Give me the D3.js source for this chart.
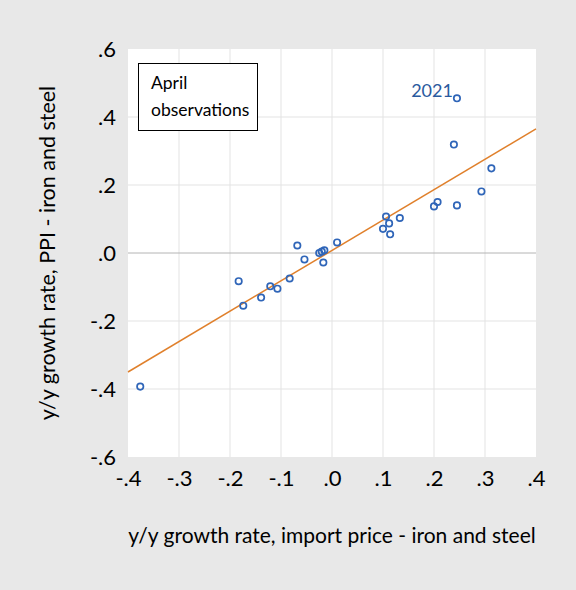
<!DOCTYPE html>
<html>
<head>
<meta charset="utf-8">
<script src="https://cdn.jsdelivr.net/npm/d3@7"></script>
<style>
  body { margin: 0; background: #e8e8e8; }
  svg { display: block; font-family: Lato, 'Open Sans', sans-serif; }
</style>
</head>
<body>
<div id="chart"></div>
<script>
// April observations: import price growth (x) vs PPI growth (y)
var importGrowth = [0.245, 0.239, 0.3125, 0.293, 0.207, 0.200, 0.245, 0.133, 0.106, 0.112,
  0.100, 0.114, 0.010, -0.068, -0.054, -0.015, -0.020, -0.025, -0.017, -0.083,
  -0.121, -0.107, -0.139, -0.183, -0.174, -0.376]
var ppiGrowth = [0.455, 0.319, 0.249, 0.181, 0.150, 0.137, 0.140, 0.103, 0.107, 0.087,
  0.071, 0.055, 0.031, 0.022, -0.019, 0.008, 0.004, 0.000, -0.028, -0.075,
  -0.098, -0.105, -0.131, -0.083, -0.155, -0.393]
var years = ['2021']

// fitted line, read at the two edges of the plot
var fitX = [-0.4, 0.4]
var fitY = [-0.350, 0.365]

var xTicks = [-0.4, -0.3, -0.2, -0.1, 0, 0.1, 0.2, 0.3, 0.4]
var yTicks = [-0.6, -0.4, -0.2, 0, 0.2, 0.4, 0.6]

var width = 576
var height = 590
var margin = { top: 49, right: 40, bottom: 133, left: 128 }

var svg = d3.select('#chart')
  .append('svg')
  .attr('width', width)
  .attr('height', height)

svg.append('rect')
  .attr('width', width)
  .attr('height', height)
  .attr('fill', '#e8e8e8')

var x = d3.scaleLinear().domain([-0.4, 0.4]).range([margin.left, width - margin.right])
var y = d3.scaleLinear().domain([-0.6, 0.6]).range([height - margin.bottom, margin.top])

// tick label like ".2" / "-.4"
function fmt (v) {
  var s = d3.format('.1f')(Math.abs(v)).replace(/^0/, '')
  return (v < -1e-9 ? '-' : '') + s
}

// plot area
svg.append('rect')
  .attr('x', x(-0.4))
  .attr('y', y(0.6))
  .attr('width', x(0.4) - x(-0.4))
  .attr('height', y(-0.6) - y(0.6))
  .attr('fill', '#ffffff')

// grid
svg.append('g')
  .selectAll('line')
  .data(xTicks.slice(1, -1))
  .join('line')
  .attr('x1', d => x(d)).attr('x2', d => x(d))
  .attr('y1', y(0.6)).attr('y2', y(-0.6))
  .attr('stroke', '#e3e3e3')
  .attr('stroke-width', 1)
svg.append('g')
  .selectAll('line')
  .data(yTicks.slice(1, -1))
  .join('line')
  .attr('x1', x(-0.4)).attr('x2', x(0.4))
  .attr('y1', d => y(d)).attr('y2', d => y(d))
  .attr('stroke', d => d === 0 ? '#b4b4b4' : '#e3e3e3')
  .attr('stroke-width', 1)

// axes, labels only
var xAxis = svg.append('g')
  .attr('transform', 'translate(0,' + (y(-0.6) + 10) + ')')
  .call(d3.axisBottom(x).tickValues(xTicks).tickFormat(fmt).tickSize(0))
xAxis.select('.domain').remove()
xAxis.selectAll('text')
  .attr('font-size', 22)
  .attr('fill', '#000')
  .attr('font-family', 'Lato, sans-serif')

var yAxis = svg.append('g')
  .attr('transform', 'translate(' + (x(-0.4) - 9) + ',0)')
  .call(d3.axisLeft(y).tickValues(yTicks).tickFormat(fmt).tickSize(0))
yAxis.select('.domain').remove()
yAxis.selectAll('text')
  .attr('font-size', 22)
  .attr('fill', '#000')
  .attr('font-family', 'Lato, sans-serif')

// axis titles
svg.append('text')
  .attr('x', 332)
  .attr('y', 543)
  .attr('text-anchor', 'middle')
  .attr('font-size', 21)
  .text('y/y growth rate, import price - iron and steel')

svg.append('text')
  .attr('transform', 'translate(55,253) rotate(-90)')
  .attr('text-anchor', 'middle')
  .attr('font-size', 21.5)
  .text('y/y growth rate, PPI - iron and steel')

// regression line
svg.append('line')
  .attr('x1', x(fitX[0])).attr('y1', y(fitY[0]))
  .attr('x2', x(fitX[1])).attr('y2', y(fitY[1]))
  .attr('stroke', '#e0802c')
  .attr('stroke-width', 1.5)

// points
svg.append('g')
  .selectAll('circle')
  .data(importGrowth.map((d, i) => [d, ppiGrowth[i]]))
  .join('circle')
  .attr('cx', d => x(d[0]))
  .attr('cy', d => y(d[1]))
  .attr('r', 3.2)
  .attr('fill', 'none')
  .attr('stroke', '#2f65b8')
  .attr('stroke-width', 1.7)

// 2021 label
svg.append('text')
  .attr('x', x(importGrowth[0]) - 4)
  .attr('y', y(ppiGrowth[0]) - 1)
  .attr('text-anchor', 'end')
  .attr('font-size', 18)
  .attr('fill', '#2a5a9e')
  .text(years[0])

// legend box
svg.append('rect')
  .attr('x', 138.5).attr('y', 63.5)
  .attr('width', 119).attr('height', 67)
  .attr('fill', '#fff')
  .attr('stroke', '#000')
  .attr('stroke-width', 1)
svg.append('text')
  .attr('x', 151).attr('y', 89)
  .attr('font-size', 17.5)
  .text('April')
svg.append('text')
  .attr('x', 151).attr('y', 116)
  .attr('font-size', 17.5)
  .text('observations')
</script>
</body>
</html>
